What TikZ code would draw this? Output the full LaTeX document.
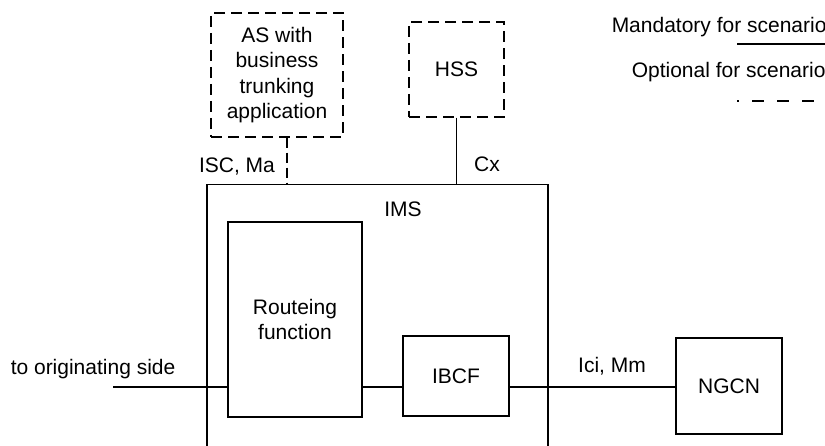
\documentclass[tikz,border=0pt]{standalone}
\usepackage{fontspec}
\setmainfont{Liberation Sans}
\usetikzlibrary{positioning}

\begin{document}
\begin{tikzpicture}[
  x=1pt, y=-1pt,
  font=\fontsize{21}{25.5}\selectfont,
  line width=1.5pt,
  box/.style={draw, align=center, inner sep=0pt},
  optbox/.style={box, dash pattern=on 11pt off 6pt},
  optline/.style={draw, dash pattern=on 10pt off 5pt},
  lbl/.style={anchor=base, inner sep=0pt}
]
\path[use as bounding box] (0,0) rectangle (825,446);
\clip (0,0) rectangle (825,446);

% boxes
\node[optbox, minimum width=132, minimum height=124] (as) at (277,75) {AS with\\business\\trunking\\application};
\node[optbox, minimum width=95, minimum height=95] (hss) at (456.5,69.5) {HSS};
\node[box, anchor=north west, minimum width=341, minimum height=300] (ims) at (206,184) {};
\node[box, minimum width=134, minimum height=195] (rf) at (295,319.5) {Routeing\\function};
\node[box, minimum width=106, minimum height=80] (ibcf) at (456,376) {IBCF};
\node[box, minimum width=106, minimum height=96] (ngcn) at (729,386) {NGCN};

% labels
\node[lbl] (imslbl) at (403,217) {IMS};
\node[lbl] (isclbl) at (237,173) {ISC, Ma};
\node[lbl] (cxlbl) at (487,172) {Cx};
\node[lbl] (icilbl) at (612,373) {Ici, Mm};
\node[lbl, anchor=base west] (origlbl) at (10,375) {to originating side};
\node[lbl, anchor=base west] (mandlbl) at (611,33) {Mandatory for scenario};
\node[lbl, anchor=base west] (optlbl) at (631,78) {Optional for scenario};

% legend
\coordinate (mandl) at (737,44);
\coordinate (mandr) at (830,44);
\coordinate (optl) at (737,101);
\coordinate (optr) at (830,101);
\draw (mandl) -- (mandr);
\draw[dash pattern=on 12pt off 13pt, dash phase=10pt] (optl) -- (optr);

% links
\coordinate (asl) at (287,0);
\coordinate (orig) at (113,387);
\draw[optline] (as.south -| asl) -- (ims.north -| asl);
\draw (hss.south) -- (hss.south |- ims.north);
\draw (orig) -- (orig -| rf.west);
\draw (orig -| rf.east) -- (orig -| ibcf.west);
\draw (orig -| ibcf.east) -- (orig -| ngcn.west);
\end{tikzpicture}
\end{document}
